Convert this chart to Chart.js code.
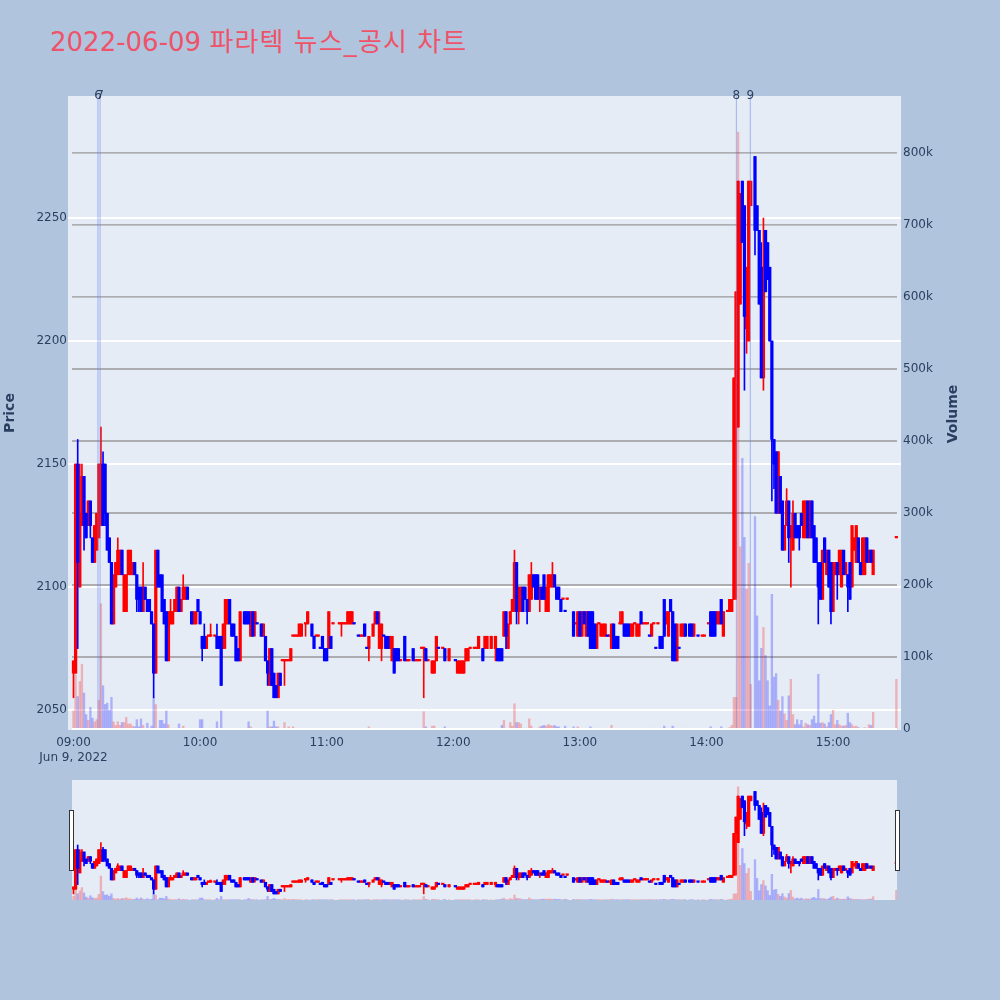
<!DOCTYPE html>
<html>
<head>
<meta charset="utf-8">
<script src="https://cdn.jsdelivr.net/npm/chart.js@4"></script>
<style>
  html, body { margin: 0; padding: 0; background: #b0c4de; }
  #page { position: relative; width: 1000px; height: 1000px; overflow: hidden; }
  #title {
    position: absolute; left: 50px; top: 21px; margin: 0; white-space: nowrap;
    font: normal 26px "DejaVu Sans", "Noto Sans CJK KR", sans-serif; color: #ee5369;
  }
  #title span { letter-spacing: 1.1px; }
  #mainChart { position: absolute; left: 0; top: 0; }
  #sliderChart { position: absolute; left: 72px; top: 780px; }
  .handle {
    position: absolute; top: 810px; width: 3px; height: 59px;
    background: #fff; border: 1px solid #333;
  }
</style>
</head>
<body>
<div id="page">
  <h1 id="title">2022-06-09 <span>파라텍 뉴스_공시 차트</span></h1>
  <canvas id="mainChart" width="1000" height="775"></canvas>
  <canvas id="sliderChart" width="825" height="120"></canvas>
  <div class="handle" style="left:69px"></div>
  <div class="handle" style="left:895px"></div>
</div>
<script>
// one entry per minute from 09:00, null where nothing traded
const opens = [
  2065,2065,2150,2100,2125,2145,2130,2125,2135,2120,
  2110,2115,2120,2125,2150,2150,2130,2120,2110,2085,
  2100,2105,2105,2115,2090,2090,2105,2105,2105,2110,
  2105,2100,2100,2090,2100,2095,2095,2090,2085,2065,
  2115,2105,2105,2095,2090,2070,2085,2085,2090,2090,
  2100,2090,2095,2095,2100,null,2090,2085,2085,2095,
  2090,2080,2080,2075,2080,2080,null,2080,2080,2080,
  2080,2075,2085,2085,2095,2085,2085,2080,2075,2070,
  null,2090,2090,2090,2080,2090,2085,2085,null,2085,
  2080,2080,2070,2060,2075,2065,2060,2055,2065,2070,
  2070,2070,2070,2070,2080,2080,2080,2080,2080,null,
  2085,2085,null,2085,2080,2080,2080,2075,2080,2075,
  2075,2075,2080,2085,null,null,2085,2085,2085,2085,
  2085,2085,2085,2085,null,2080,2080,2080,2085,2075,
  2075,null,2080,2085,2090,2075,2075,2080,2080,2080,
  2075,2070,2075,2075,2075,2070,null,2080,2070,2070,
  null,2075,2070,2070,2070,2075,2075,2075,2070,null,
  2065,2065,2070,2075,null,2075,2075,null,2070,null,
  null,2070,2065,2065,2065,2065,2070,2070,2075,null,
  2075,2075,2075,null,2075,2075,2075,null,2075,null,
  2075,2075,2075,2075,2080,2090,2075,2085,2090,2090,
  2110,2090,2090,2100,2100,2095,2090,2095,2105,2105,
  2105,2095,2100,2105,2090,2090,2100,2100,2105,2100,
  2100,2095,2095,2090,2095,null,null,2090,2085,2080,
  2090,2080,2090,2080,2090,2090,2090,2085,2075,2085,
  2080,2080,2080,2080,2080,2075,2085,2080,2080,2085,
  2085,2085,2085,2085,2080,2080,2085,2080,2080,2090,
  2085,2085,2085,2080,2080,2085,2075,2085,2080,2080,
  2095,2085,2080,2095,2090,2085,2070,2075,2080,2080,
  2085,null,2085,2085,2080,null,2080,null,2080,2080,
  null,2085,2090,2090,2090,2085,2085,2095,2080,null,
  2090,2090,2090,2095,2185,2165,2215,2265,2255,2205,
  2200,2255,null,2275,2255,2245,2230,2185,2245,2240,
  2230,2200,2160,2155,2130,2145,2135,2115,2125,2135,
  2120,2115,2130,2125,2125,2130,2120,2120,2135,2120,
  2135,2125,2120,2110,2110,2095,2120,2105,2115,2110,
  2090,2105,2110,2105,2100,2115,2105,2105,2110,2100,
  2115,2110,2120,2110,2105,2105,2120,2110,2115,2105,
  null,null,null,null,null,null,null,null,null,null,
  2120
];
const closes = [
  2070,2150,2110,2130,2145,2125,2120,2135,2125,2110,
  2125,2130,2150,2150,2125,2130,2115,2110,2085,2105,
  2110,2115,2115,2105,2105,2105,2115,2115,2110,2105,
  2095,2095,2090,2100,2095,2090,2090,2085,2065,2115,
  2100,2100,2090,2085,2070,2090,2090,2090,2095,2100,
  2090,2095,2100,2100,2095,null,2085,2090,2090,2090,
  2085,2075,2075,2080,2080,2080,null,2080,2075,2075,
  2060,2085,2095,2095,2085,2080,2080,2070,2070,2090,
  null,2085,2085,2085,2090,2080,2090,2085,null,2080,
  2085,2070,2065,2075,2060,2055,2055,2065,2060,2070,
  2070,2070,2070,2075,2080,2080,2080,2085,2085,null,
  2085,2090,null,2080,2075,2080,2080,2075,2075,2070,
  2070,2090,2075,2085,null,null,2085,2085,2085,2085,
  2090,2090,2090,2085,null,2080,2080,2080,2080,2075,
  2080,null,2085,2090,2085,2085,2085,2080,2075,2075,
  2080,2080,2065,2070,2070,2070,null,2070,2070,2070,
  null,2070,2070,2070,2070,2075,2075,2070,2070,null,
  2070,2070,2080,2075,null,2075,2070,null,2075,null,
  null,2070,2070,2070,2070,2070,2075,2075,2075,null,
  2075,2075,2080,null,2070,2080,2080,null,2080,null,
  2080,2070,2070,2070,2090,2080,2085,2090,2095,2110,
  2090,2100,2100,2090,2095,2090,2105,2105,2100,2095,
  2095,2100,2095,2095,2100,2105,2105,2105,2100,2095,
  2095,2090,2095,2090,2095,null,null,2080,2085,2090,
  2080,2090,2085,2090,2080,2075,2075,2075,2085,2085,
  2085,2085,2085,2080,2080,2085,2075,2075,2075,2085,
  2090,2080,2080,2080,2085,2085,2085,2085,2085,2085,
  2085,2085,2085,2080,2085,2085,2075,2085,2075,2075,
  2080,2090,2090,2090,2070,2070,2085,2075,2085,2085,
  2080,null,2080,2080,2085,null,2080,null,2080,2080,
  null,2085,2080,2080,2080,2090,2090,2085,2090,null,
  2090,2095,2095,2185,2220,2265,2260,2240,2210,2230,
  2265,2265,null,2245,2245,2215,2185,2230,2220,2225,
  2200,2160,2150,2130,2155,2130,2115,2125,2135,2120,
  2125,2130,2120,2120,2120,2125,2135,2135,2120,2135,
  2120,2110,2110,2100,2095,2115,2110,2115,2100,2090,
  2110,2110,2105,2115,2115,2105,2110,2100,2095,2125,
  2120,2125,2110,2105,2120,2120,2110,2115,2110,2115,
  null,null,null,null,null,null,null,null,null,null,
  2120
];
const highs = [
  2070,2150,2160,2150,2150,2145,2130,2135,2135,2120,
  2125,2130,2150,2165,2155,2150,2130,2120,2110,2105,
  2110,2120,2115,2115,2105,2105,2115,2115,2110,2110,
  2105,2100,2100,2110,2100,2095,2095,2090,2085,2115,
  2115,2105,2105,2095,2090,2090,2095,2090,2095,2100,
  2100,2095,2105,2100,2100,null,2090,2090,2090,2095,
  2090,2080,2085,2080,2080,2085,null,2080,2085,2080,
  2080,2085,2095,2095,2095,2085,2085,2080,2075,2090,
  null,2090,2090,2090,2090,2090,2090,2085,null,2085,
  2085,2080,2070,2075,2075,2065,2060,2065,2065,2070,
  2070,2070,2070,2075,2080,2080,2080,2085,2085,null,
  2085,2090,null,2085,2080,2080,2080,2075,2080,2075,
  2075,2090,2080,2085,null,null,2085,2085,2085,2085,
  2090,2090,2090,2085,null,2080,2080,2080,2085,2075,
  2080,null,2085,2090,2090,2090,2085,2080,2080,2080,
  2080,2080,2075,2075,2075,2070,null,2080,2070,2070,
  null,2075,2070,2070,2070,2075,2075,2075,2070,null,
  2070,2070,2080,2075,null,2075,2075,null,2075,null,
  null,2070,2070,2070,2070,2070,2075,2075,2075,null,
  2075,2075,2080,null,2075,2080,2080,null,2080,null,
  2080,2075,2075,2075,2090,2090,2085,2090,2095,2115,
  2110,2100,2100,2100,2100,2095,2105,2110,2105,2105,
  2105,2100,2100,2105,2100,2105,2105,2110,2105,2100,
  2100,2095,2095,2090,2095,null,null,2090,2085,2090,
  2090,2090,2090,2090,2090,2090,2090,2085,2085,2085,
  2085,2085,2085,2080,2080,2085,2085,2080,2080,2090,
  2090,2085,2085,2085,2085,2085,2085,2085,2085,2090,
  2085,2085,2085,2080,2085,2085,2075,2085,2080,2080,
  2095,2090,2090,2095,2090,2085,2085,2075,2085,2085,
  2085,null,2085,2085,2085,null,2080,null,2080,2080,
  null,2085,2090,2090,2090,2090,2090,2095,2090,null,
  2090,2095,2095,2185,2220,2265,2260,2265,2255,2230,
  2265,2265,null,2275,2255,2245,2240,2250,2245,2240,
  2230,2200,2160,2155,2155,2145,2135,2125,2140,2135,
  2125,2135,2130,2125,2125,2130,2135,2135,2135,2135,
  2135,2125,2120,2110,2110,2115,2120,2115,2115,2110,
  2110,2110,2110,2115,2115,2115,2110,2105,2110,2125,
  2120,2125,2120,2110,2120,2120,2120,2115,2115,2115,
  null,null,null,null,null,null,null,null,null,null,
  2120
];
const lows = [
  2055,2065,2075,2100,2125,2115,2120,2125,2120,2110,
  2110,2115,2120,2125,2125,2125,2115,2110,2085,2085,
  2100,2105,2105,2105,2090,2090,2105,2105,2105,2105,
  2090,2090,2090,2090,2095,2090,2090,2085,2055,2065,
  2100,2100,2090,2085,2070,2070,2085,2085,2090,2090,
  2090,2090,2095,2095,2095,null,2085,2085,2085,2090,
  2085,2070,2075,2075,2080,2080,null,2080,2075,2075,
  2060,2075,2075,2085,2085,2080,2080,2070,2070,2070,
  null,2085,2085,2085,2080,2080,2080,2085,null,2080,
  2080,2070,2060,2060,2060,2055,2055,2055,2060,2070,
  2060,2070,2070,2070,2080,2080,2080,2080,2080,null,
  2080,2085,null,2080,2075,2080,2080,2075,2075,2070,
  2070,2075,2075,2085,null,null,2085,2080,2085,2085,
  2085,2085,2085,2085,null,2080,2080,2080,2080,2075,
  2070,null,2080,2085,2085,2075,2070,2080,2075,2075,
  2075,2070,2065,2070,2070,2070,null,2070,2070,2070,
  null,2070,2070,2070,2070,2075,2055,2070,2070,null,
  2065,2065,2070,2075,null,2075,2070,null,2070,null,
  null,2070,2065,2065,2065,2065,2070,2070,2075,null,
  2075,2075,2075,null,2070,2075,2075,null,2075,null,
  2070,2070,2070,2070,2080,2075,2075,2085,2090,2090,
  2085,2085,2090,2090,2095,2085,2090,2095,2100,2095,
  2095,2090,2095,2095,2090,2090,2100,2100,2100,2095,
  2095,2090,2095,2090,2095,null,null,2080,2085,2080,
  2080,2080,2085,2080,2080,2075,2075,2075,2075,2085,
  2080,2080,2080,2080,2080,2075,2075,2075,2075,2085,
  2085,2080,2080,2080,2080,2080,2085,2080,2080,2085,
  2085,2085,2085,2080,2080,2085,2075,2085,2075,2075,
  2080,2085,2080,2090,2070,2070,2070,2075,2080,2080,
  2080,null,2080,2080,2080,null,2080,null,2080,2080,
  null,2085,2080,2080,2080,2085,2085,2085,2080,null,
  2090,2090,2090,2095,2095,2165,2215,2240,2180,2195,
  2200,2255,null,2235,2245,2215,2185,2180,2220,2225,
  2200,2135,2140,2130,2130,2130,2115,2115,2125,2110,
  2100,2115,2120,2120,2115,2125,2120,2120,2120,2120,
  2120,2110,2110,2085,2095,2095,2110,2105,2100,2085,
  2090,2105,2095,2105,2100,2105,2105,2090,2095,2100,
  2115,2110,2110,2105,2105,2105,2110,2110,2110,2105,
  null,null,null,null,null,null,null,null,null,null,
  2120
];
// thousands of shares
const volumes = [
  25,75,45,66,90,50,20,12,30,15,
  10,13,40,174,60,34,36,26,44,10,
  5,10,5,9,9,16,7,7,4,3,
  13,3,14,5,1,8,1,4,43,34,
  1,12,12,7,25,6,1,1,1,1,
  7,1,4,1,0.5,null,0.5,0.5,0.5,0.5,
  13,13,0.5,0.5,0.5,0.5,null,0.5,10,0.5,
  25,0.5,0.5,1,0.5,0.5,0.5,0.5,0.5,0.5,
  null,0.5,0.5,10,3,0.5,0.5,0.5,null,0.5,
  0.5,0.5,25,3,3,11,3,3,0.5,0.5,
  9,0.5,3,0.5,3,1,0.3,0.3,0.3,null,
  1,0.3,null,0.3,0.3,0.3,0.3,0.3,0.3,0.3,
  0.3,0.3,0.3,0.3,null,null,0.3,0.3,0.3,0.3,
  0.3,0.3,0.3,0.3,null,0.3,0.3,0.3,0.3,0.3,
  3,null,0.3,0.3,0.3,0.3,0.3,0.3,0.3,0.3,
  0.3,0.3,0.3,0.3,0.3,0.3,null,0.3,0.3,0.3,
  null,0.3,0.3,0.3,0.3,0.3,24,3,0.3,null,
  4,4,0.3,0.3,null,0.3,3,null,0.3,null,
  null,0.3,0.3,0.3,0.3,0.3,0.3,0.3,0.3,null,
  0.3,0.3,0.3,null,0.3,0.3,0.3,null,0.3,null,
  0.3,0.3,0.3,5,12,1,1,9,4,35,
  9,9,7,1,1,1,14,4,0.3,0.3,
  0.3,3,4,5,4,6,5,4,5,3,
  3,1,0.3,4,1,null,null,3,0.3,3,
  0.3,1,0.3,1,0.3,3,0.3,1,0.3,1,
  0.3,0.3,0.3,0.3,0.3,5,1,0.3,0.3,0.3,
  0.3,0.3,0.3,1,0.3,0.3,0.3,0.3,0.3,0.3,
  0.3,0.3,1,1,1,0.3,0.3,0.3,1,0.3,
  4,1,0.3,1,4,1,0.3,0.3,0.3,1,
  1,null,0.3,1,0.3,null,0.3,null,0.3,0.3,
  null,0.3,3,0.3,1,1,0.3,3,0.3,null,
  0.3,2,5,44,44,829,253,376,266,194,
  230,62,null,295,157,67,112,141,102,67,
  32,187,72,77,40,25,45,21,12,46,
  69,20,6,13,6,12,3,8,6,5,
  13,18,8,76,8,9,7,3,9,20,
  26,6,12,6,4,4,5,22,9,6,
  3,4,2,1,1,2,1,6,5,23,
  null,null,null,null,null,null,null,null,null,null,
  69
];

const timeTicks = [0, 60, 120, 180, 240, 300, 360];
const timeLabels = ["09:00", "10:00", "11:00", "12:00", "13:00", "14:00", "15:00"];
const dateLabel = "Jun 9, 2022";
const priceTicks = [2050, 2100, 2150, 2200, 2250];
const volumeTicks = [0, 100, 200, 300, 400, 500, 600, 700, 800];
const newsMinutes = [11.6, 12.6, 314.2, 320.8];
const newsLabels = ["6", "7", "8", "9"];

const PLOT_BG = "#e5ecf6";
const TEXT_COLOR = "#2a3f5f";
const FONT = '"DejaVu Sans", sans-serif';
const PRICE_RANGE = { min: 2041.9, max: 2299.6 };
const VOLUME_RANGE = { min: -1.4, max: 879 };
const VOLUME_LINE_SPAN = [-0.7, 390.3];

// splits the minutes into rising and falling, a flat one follows the previous close
function candlePoints() {
  const result = { wickUp: [], bodyUp: [], wickDown: [], bodyDown: [], volUp: [], volDown: [] };
  let prevClose = null;
  opens.forEach((open, i) => {
    if (open === null) return;
    const close = closes[i];
    const rising = close > open || (close === open && (prevClose === null || close >= prevClose));
    prevClose = close;
    const side = rising ? "Up" : "Down";
    result["wick" + side].push({ x: i, y: [lows[i], highs[i]] });
    result["body" + side].push({ x: i, y: [Math.min(open, close), Math.max(open, close)] });
    result["vol" + side].push({ x: i, y: volumes[i] });
  });
  return result;
}

function barSet(data, color, thickness, yAxisID, order, minLength) {
  return {
    type: "bar", data, yAxisID, order,
    backgroundColor: color, borderWidth: 0,
    barThickness: thickness, grouped: false,
    minBarLength: minLength || 0,
  };
}

function candleDatasets() {
  const p = candlePoints();
  return [
    barSet(p.wickUp, "#ff0000", 1, "y", 4),
    barSet(p.bodyUp, "#ff0000", 2.6, "y", 4, 1.5),
    barSet(p.wickDown, "#0000ff", 1, "y", 3),
    barSet(p.bodyDown, "#0000ff", 2.6, "y", 3, 1.5),
    barSet(p.volUp, "rgba(255, 0, 0, 0.25)", 1.7, "y2", 2),
    barSet(p.volDown, "rgba(0, 0, 255, 0.25)", 1.7, "y2", 2),
  ];
}

function lineSet(points, color, width, yAxisID, order) {
  return {
    type: "line", data: points, yAxisID, order,
    borderColor: color, borderWidth: width,
    pointRadius: 0, fill: false, tension: 0,
  };
}

// the zero line stays above the volume bars, the others below the candles
const volumeLines = volumeTicks.map((v) =>
  lineSet(VOLUME_LINE_SPAN.map((x) => ({ x, y: v })), v === 0 ? "#ffffff" : "#999999", v === 0 ? 2 : 1.4, "y2", v === 0 ? 1 : 8)
);
const newsLines = newsMinutes.map((m) =>
  lineSet([{ x: m, y: PRICE_RANGE.min }, { x: m, y: PRICE_RANGE.max }], "rgba(99, 125, 235, 0.45)", 1.2, "y", 1)
);

const plotBackground = {
  id: "plotBackground",
  beforeDraw(chart) {
    const { ctx, chartArea: a } = chart;
    ctx.save();
    ctx.fillStyle = PLOT_BG;
    ctx.fillRect(a.left, a.top, a.right - a.left, a.bottom - a.top);
    ctx.restore();
  },
};

// news numbers on the top edge and the volume title, which reads upwards
const chartTexts = {
  id: "chartTexts",
  afterDraw(chart) {
    const { ctx, scales, chartArea } = chart;
    ctx.save();
    ctx.fillStyle = TEXT_COLOR;
    ctx.font = `12px ${FONT}`;
    ctx.textAlign = "center";
    ctx.textBaseline = "middle";
    newsLabels.forEach((label, i) => {
      ctx.fillText(label, scales.x.getPixelForValue(newsMinutes[i]), chartArea.top);
    });
    ctx.translate(953, (chartArea.top + chartArea.bottom) / 2 + 1);
    ctx.rotate(-Math.PI / 2);
    ctx.font = `bold 14px ${FONT}`;
    ctx.fillText("Volume", 0, 0);
    ctx.restore();
  },
};

const setTicks = (values) => (axis) => {
  axis.ticks = values.map((value) => ({ value }));
};

new Chart(document.getElementById("mainChart"), {
  data: { datasets: [...volumeLines, ...candleDatasets(), ...newsLines] },
  plugins: [plotBackground, chartTexts],
  options: {
    responsive: false,
    animation: false,
    devicePixelRatio: 1,
    layout: { padding: { top: 96, left: 0, right: 0, bottom: 0 } },
    plugins: { legend: { display: false }, tooltip: { enabled: false } },
    scales: {
      x: {
        type: "linear", min: -2.6, max: 392.2, offset: false,
        grid: { display: false, drawTicks: false }, border: { display: false },
        afterBuildTicks: setTicks(timeTicks),
        afterFit(axis) { axis.height = 45; },
        ticks: {
          autoSkip: false, maxRotation: 0, padding: 5, color: TEXT_COLOR,
          font: { family: FONT, size: 12, lineHeight: 1.25 },
          callback(value) {
            const label = timeLabels[timeTicks.indexOf(value)];
            return value === 0 ? [label, dateLabel] : label;
          },
        },
      },
      y: {
        position: "left", ...PRICE_RANGE,
        grid: { color: "#ffffff", lineWidth: 2, drawTicks: false },
        border: { display: false },
        afterBuildTicks: setTicks(priceTicks),
        afterFit(axis) { axis.width = 68; },
        title: {
          display: true, text: "Price", color: TEXT_COLOR, padding: { top: 2, bottom: 0 },
          font: { family: FONT, size: 14, weight: "bold" },
        },
        ticks: {
          padding: 1, color: TEXT_COLOR, font: { family: FONT, size: 12 },
          callback: (v) => String(v),
        },
      },
      y2: {
        position: "right", ...VOLUME_RANGE,
        grid: { display: false, drawTicks: false }, border: { display: false },
        afterBuildTicks: setTicks(volumeTicks),
        afterFit(axis) { axis.width = 99; },
        ticks: {
          padding: 2, color: TEXT_COLOR, font: { family: FONT, size: 12 },
          callback: (v) => (v === 0 ? "0" : `${v}k`),
        },
      },
    },
  },
});

new Chart(document.getElementById("sliderChart"), {
  data: { datasets: candleDatasets() },
  plugins: [plotBackground],
  options: {
    responsive: false,
    animation: false,
    devicePixelRatio: 1,
    plugins: { legend: { display: false }, tooltip: { enabled: false } },
    scales: {
      x: { type: "linear", min: VOLUME_LINE_SPAN[0], max: VOLUME_LINE_SPAN[1], offset: false, display: false },
      y: { ...PRICE_RANGE, display: false },
      y2: { ...VOLUME_RANGE, display: false },
    },
  },
});
</script>
</body>
</html>
